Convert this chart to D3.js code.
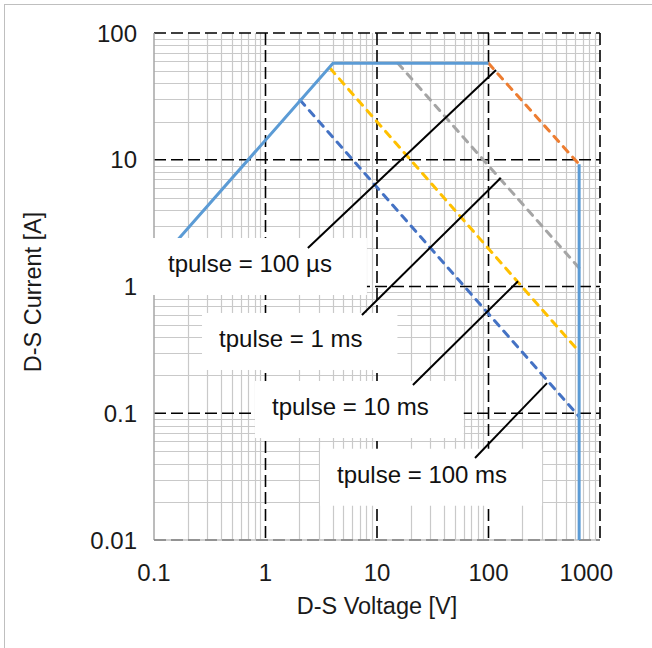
<!DOCTYPE html>
<html><head><meta charset="utf-8">
<script src="https://cdn.jsdelivr.net/npm/d3@7"></script>
<style>body{margin:0;background:#fff}svg{display:block}text{font-family:"Liberation Sans",Arial,sans-serif}</style>
</head><body>
<script>
// ---- data ----
const voltageTicks = [0.1, 1, 10, 100, 1000];
const voltageTickLabels = ["0.1", "1", "10", "100", "1000"];
const currentTicks = [0.01, 0.1, 1, 10, 100];
const currentTickLabels = ["0.01", "0.1", "1", "10", "100"];

// DC limit (solid light blue): Rds(on) line then current limit
const limitV = [0.1, 4.03, 100];
const limitI = [1.43, 57.6, 57.6];
// breakdown voltage (solid light blue vertical)
const breakdownV = [650, 650];
const breakdownI = [9.2, 0.01];
// pulse limits (dashed)
const pulse100usV = [100, 650];
const pulse100usI = [57.6, 9.2];
const pulse1msV = [15.4, 650];
const pulse1msI = [57.6, 1.40];
const pulse10msV = [3.8, 650];
const pulse10msI = [52.6, 0.306];
const pulse100msV = [2.04, 650];
const pulse100msI = [29.6, 0.094];

// annotation labels: text, text start (V, A), leader from (V, A) to (V, A)
const labelTexts = ["tpulse = 100 µs", "tpulse = 1 ms", "tpulse = 10 ms", "tpulse = 100 ms"];
const labelV = [0.1335, 0.383, 1.144, 4.378];
const labelI = [1.301, 0.3334, 0.0969, 0.0283];
const leaderV0 = [2.40, 7.33, 21.0, 75.7];
const leaderI0 = [2.01, 0.596, 0.167, 0.0444];
const leaderV1 = [116.8, 128.6, 184, 335];
const leaderI1 = [51, 7.18, 1.10, 0.173];

const W = 652, H = 648;
const svg = d3.select("body").append("svg").attr("width", W).attr("height", H);

// outer frame
svg.append("rect").attr("x", 4.5).attr("y", 4.5).attr("width", 700).attr("height", 700)
  .attr("fill", "none").attr("stroke", "#BFBFBF").attr("stroke-width", 1);

const x = d3.scaleLog().domain([0.1, 1000]).range([154, 600]);
const y = d3.scaleLog().domain([0.01, 100]).range([540, 33]);

// minor gridlines
const minorX = [], minorY = [];
for (let d = 0.1; d < 1000; d *= 10) for (let k = 2; k <= 9; k++) minorX.push(d * k);
for (let d = 0.01; d < 100; d *= 10) for (let k = 2; k <= 9; k++) minorY.push(d * k);
const grid = svg.append("g");
grid.selectAll(".mx").data(minorX).enter().append("line")
  .attr("x1", d => Math.round(x(d)) + 0.5).attr("x2", d => Math.round(x(d)) + 0.5)
  .attr("y1", y(0.01)).attr("y2", y(100)).attr("stroke", "#C9C9C9").attr("stroke-width", 1.2);
grid.selectAll(".my").data(minorY).enter().append("line")
  .attr("y1", d => Math.round(y(d)) + 0.5).attr("y2", d => Math.round(y(d)) + 0.5)
  .attr("x1", x(0.1)).attr("x2", x(1000)).attr("stroke", "#C9C9C9").attr("stroke-width", 1.2);

// major gridlines (dashed black)
grid.selectAll(".Mx").data(voltageTicks.slice(1)).enter().append("line")
  .attr("x1", d => x(d)).attr("x2", d => x(d))
  .attr("y1", y(100)).attr("y2", y(0.01)).attr("stroke", "#000").attr("stroke-width", 1.6)
  .attr("stroke-dasharray", "12,5");
grid.selectAll(".My").data(currentTicks.slice(1)).enter().append("line")
  .attr("y1", d => y(d)).attr("y2", d => y(d))
  .attr("x1", x(0.1)).attr("x2", x(1000)).attr("stroke", "#000").attr("stroke-width", 1.6)
  .attr("stroke-dasharray", "12,5");

// axes lines
svg.append("line").attr("x1", x(0.1)).attr("x2", x(0.1)).attr("y1", y(100)).attr("y2", y(0.01))
  .attr("stroke", "#A6A6A6").attr("stroke-width", 1.5);
svg.append("line").attr("x1", x(0.1)).attr("x2", x(1000)).attr("y1", y(0.01)).attr("y2", y(0.01))
  .attr("stroke", "#BFBFBF").attr("stroke-width", 1.5);
svg.append("line").attr("x1", x(0.1)).attr("x2", x(1000)).attr("y1", y(0.01)).attr("y2", y(0.01))
  .attr("stroke", "#808080").attr("stroke-width", 1.5).attr("stroke-dasharray", "12,5");

// series
const line = d3.line().x(d => x(d[0])).y(d => y(d[1]));
const zip = (a, b) => a.map((v, i) => [v, b[i]]);
const series = [
  {v: pulse100msV, i: pulse100msI, color: "#4472C4", dash: true},
  {v: pulse10msV, i: pulse10msI, color: "#FFC000", dash: true},
  {v: pulse1msV, i: pulse1msI, color: "#A5A5A5", dash: true},
  {v: pulse100usV, i: pulse100usI, color: "#ED7D31", dash: true},
  {v: limitV, i: limitI, color: "#5B9BD5", dash: false},
  {v: breakdownV, i: breakdownI, color: "#5B9BD5", dash: false}
];
svg.append("g").selectAll("path").data(series).enter().append("path")
  .attr("d", s => line(zip(s.v, s.i)))
  .attr("fill", "none").attr("stroke", s => s.color).attr("stroke-width", 3)
  .attr("stroke-linecap", s => s.dash ? "round" : "butt")
  .attr("stroke-dasharray", s => s.dash ? "7,7" : null);

// tick labels
const xl = svg.append("g").selectAll("text").data(voltageTicks).enter().append("text")
  .attr("x", d => x(d)).attr("y", 581).attr("text-anchor", "middle")
  .attr("font-size", 24).attr("fill", "#1a1a1a").text((d, i) => voltageTickLabels[i]);
xl.each(function() {
  const bb = this.getBBox();
  const maxRight = 613;
  if (bb.x + bb.width > maxRight) d3.select(this).attr("x", maxRight - bb.width / 2);
});
svg.append("g").selectAll("text").data(currentTicks).enter().append("text")
  .attr("x", 137).attr("y", d => y(d) + 8.5).attr("text-anchor", "end")
  .attr("font-size", 24).attr("fill", "#1a1a1a").text((d, i) => currentTickLabels[i]);

// axis titles
svg.append("text").attr("x", 377).attr("y", 614).attr("text-anchor", "middle")
  .attr("font-size", 23.5).attr("fill", "#1a1a1a").text("D-S Voltage [V]");
svg.append("text").attr("transform", "translate(41,292) rotate(-90)").attr("text-anchor", "middle")
  .attr("font-size", 23.5).attr("fill", "#1a1a1a").text("D-S Current [A]");

// annotation boxes
const ann = svg.append("g");
labelTexts.forEach((t, k) => {
  const g = ann.append("g");
  const rect = g.append("rect").attr("fill", "#fff");
  const tx = x(labelV[k]), ty = y(labelI[k]);
  const txt = g.append("text").attr("x", tx).attr("y", ty)
    .attr("font-size", 24).attr("fill", "#111").text(t);
  const bb = txt.node().getBBox();
  rect.attr("x", tx - 17).attr("width", bb.width + 52)
    .attr("y", ty - 34).attr("height", 57);
});
ann.selectAll("line").data(labelTexts).enter().append("line")
  .attr("x1", (d, k) => x(leaderV0[k])).attr("y1", (d, k) => y(leaderI0[k]))
  .attr("x2", (d, k) => x(leaderV1[k])).attr("y2", (d, k) => y(leaderI1[k]))
  .attr("stroke", "#000").attr("stroke-width", 2);
</script>
</body></html>
